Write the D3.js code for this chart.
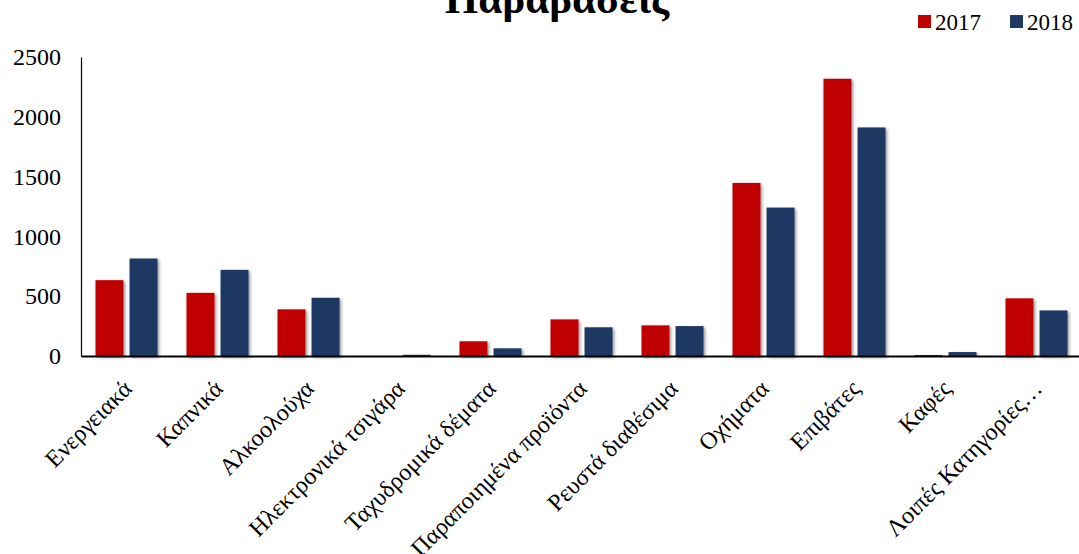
<!DOCTYPE html>
<html>
<head>
<meta charset="utf-8">
<script src="https://cdn.jsdelivr.net/npm/d3@7"></script>
<style>
  html, body { margin: 0; padding: 0; background: #fff; }
  svg { display: block; }
  text { font-family: "Liberation Serif", "Times New Roman", serif; fill: #000; }
</style>
</head>
<body>
<svg id="chart" width="1079" height="554"></svg>
<script>
// Categories of violations and counts per year
const categories = [
  "Ενεργειακά", "Καπνικά", "Αλκοολούχα", "Ηλεκτρονικά τσιγάρα",
  "Ταχυδρομικά δέματα", "Παραποιημένα προϊόντα", "Ρευστά διαθέσιμα",
  "Οχήματα", "Επιβάτες", "Καφές", "Λοιπές Κατηγορίες…"
];
const values2017 = [634, 528, 390, 0, 123, 306, 256, 1447, 2318, 8, 482];
const values2018 = [815, 720, 487, 10, 64, 240, 250, 1241, 1911, 33, 381];
const years = ["2017", "2018"];
const colors = ["#C00000", "#1F3864"];
const yTicks = [0, 500, 1000, 1500, 2000, 2500];

const svg = d3.select("#chart");
const left = 81;

const x = d3.scaleBand().domain(categories).range([left, 1082]).paddingInner(0).paddingOuter(0);
const x1 = d3.scaleBand().domain(years).range([14.5, x.bandwidth() - 14.5]).paddingInner(0.18);
const y = d3.scaleLinear().domain([0, 2500]).range([356, 57]);

// soft drop shadow under bars
const defs = svg.append("defs");
const f = defs.append("filter").attr("id", "shadow")
  .attr("x", "-30%").attr("y", "-10%").attr("width", "160%").attr("height", "130%");
f.append("feDropShadow").attr("dx", 1.5).attr("dy", 1.5).attr("stdDeviation", 1.6)
  .attr("flood-color", "#000").attr("flood-opacity", 0.45);

// title
svg.append("text").attr("x", 557).attr("y", 13).attr("text-anchor", "middle")
  .style("font-size", "43px").style("font-weight", "bold").text("Παραβάσεις");

// y axis labels
const yAxis = d3.axisLeft(y).tickValues(yTicks).tickSize(0).tickPadding(20).tickFormat(d3.format("d"));
const gy = svg.append("g").attr("transform", `translate(${left},0)`).call(yAxis);
gy.select(".domain").attr("stroke", "#000").attr("stroke-width", 1.2);
gy.selectAll("text").style("font-size", "24px").style("font-family", "Liberation Serif, serif").attr("fill", "#000");

// bars
const series = [values2017, values2018];
const groups = svg.append("g").selectAll("g").data(categories).join("g")
  .attr("transform", d => `translate(${x(d)},0)`);
groups.selectAll("rect")
  .data((d, i) => years.map((yr, k) => ({ yr, v: series[k][i], k })))
  .join("rect")
  .attr("x", d => x1(d.yr))
  .attr("width", x1.bandwidth())
  .attr("y", d => y(d.v))
  .attr("height", d => y(0) - y(d.v))
  .attr("fill", d => colors[d.k])
  .attr("filter", "url(#shadow)");

// x axis with rotated category labels
const xAxis = d3.axisBottom(x).tickSize(0).tickPadding(0);
const gx = svg.append("g").attr("transform", `translate(0,${y(0)})`).call(xAxis);
gx.select(".domain").attr("stroke", "#000").attr("stroke-width", 2.2);
gx.selectAll("text")
  .style("font-size", "24px").style("font-family", "Liberation Serif, serif").attr("fill", "#000")
  .attr("text-anchor", "end")
  .attr("y", 0)
  .attr("dy", 0)
  .attr("transform", "translate(7,34) rotate(-45)");

// legend
const legend = svg.append("g");
years.forEach((yr, k) => {
  const lx = 918 + k * 92;
  legend.append("rect").attr("x", lx).attr("y", 15).attr("width", 13).attr("height", 13).attr("fill", colors[k]);
  legend.append("text").attr("x", lx + 17).attr("y", 30).style("font-size", "23px").text(yr);
});
</script>
</body>
</html>
